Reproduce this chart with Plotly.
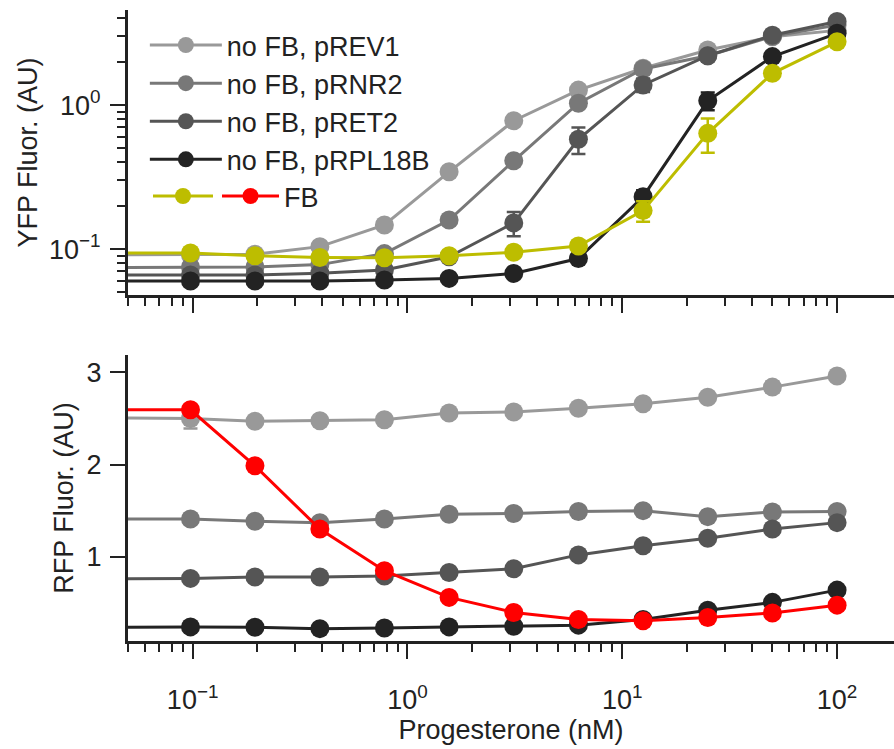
import plotly.graph_objects as go

# Progesterone concentrations (nM); the first entry is the untreated control, drawn off-scale at left
conc = [0.02, 0.0977, 0.195, 0.391, 0.781, 1.5625, 3.125, 6.25, 12.5, 25, 50, 100]

# YFP fluorescence (AU)
yfp_rev1 = [0.091, 0.091, 0.092, 0.104, 0.147, 0.344, 0.778, 1.27, 1.80, 2.41, 2.98, 3.3]
yfp_rnr2 = [0.074, 0.075, 0.075, 0.078, 0.093, 0.159, 0.41, 1.03, 1.78, 2.20, 3.0, 3.6]
yfp_ret2 = [0.066, 0.066, 0.066, 0.068, 0.0715, 0.0885, 0.152, 0.578, 1.38, 2.20, 3.05, 3.8]
yfp_rpl18b = [0.060, 0.060, 0.060, 0.060, 0.061, 0.0626, 0.0678, 0.086, 0.231, 1.07, 2.17, 3.15]
yfp_fb = [0.094, 0.094, 0.090, 0.0875, 0.087, 0.090, 0.095, 0.105, 0.185, 0.636, 1.66, 2.75]

yfp_rev1_err = [0, 0.003, 0.003, 0.004, 0.006, 0.012, 0.03, 0.05, 0.06, 0.08, 0.1, 0.1]
yfp_rnr2_err = [0, 0.002, 0.002, 0.003, 0.004, 0.008, 0.02, 0.05, 0.06, 0.08, 0.1, 0.1]
yfp_ret2_err = [0, 0.002, 0.002, 0.002, 0.003, 0.004, 0.029, 0.12, 0.15, 0.1, 0.1, 0.1]
yfp_rpl18b_err = [0, 0.002, 0.002, 0.002, 0.002, 0.002, 0.003, 0.004, 0.025, 0.15, 0.1, 0.1]
yfp_fb_err = [0, 0.003, 0.003, 0.003, 0.003, 0.003, 0.004, 0.005, 0.03, 0.17, 0.1, 0.1]

# RFP fluorescence (AU)
rfp_rev1 = [2.51, 2.50, 2.47, 2.475, 2.486, 2.56, 2.57, 2.61, 2.66, 2.73, 2.84, 2.96]
rfp_rnr2 = [1.41, 1.41, 1.385, 1.37, 1.41, 1.46, 1.47, 1.49, 1.50, 1.435, 1.486, 1.49]
rfp_ret2 = [0.755, 0.765, 0.78, 0.78, 0.79, 0.83, 0.87, 1.02, 1.12, 1.20, 1.30, 1.37]
rfp_rpl18b = [0.228, 0.239, 0.235, 0.22, 0.228, 0.239, 0.247, 0.258, 0.32, 0.42, 0.505, 0.638]
rfp_fb = [2.594, 2.594, 1.986, 1.30, 0.848, 0.559, 0.396, 0.32, 0.305, 0.34, 0.39, 0.475]

rfp_rev1_err = [0, 0.11, 0.02, 0.02, 0.02, 0.02, 0.02, 0.02, 0.02, 0.03, 0.06, 0.05]
rfp_small_err = [0, 0.02, 0.02, 0.02, 0.02, 0.02, 0.02, 0.02, 0.02, 0.02, 0.02, 0.02]

series_names = ["no FB, pREV1", "no FB, pRNR2", "no FB, pRET2", "no FB, pRPL18B"]
gray_colors = ["#999999", "#787878", "#555555", "#232323"]
yellow = "#BDBD00"
red = "#FF0000"

x_tickvals = [0.1, 1, 10, 100]
x_ticktext = ["10<sup>−1</sup>", "10<sup>0</sup>", "10<sup>1</sup>", "10<sup>2</sup>"]
yfp_tickvals = [0.1, 1]
yfp_ticktext = ["10<sup>−1</sup>", "10<sup>0</sup>"]
rfp_tickvals = [1, 2, 3]

FONT = "Liberation Sans, Arial, sans-serif"
INK = "#222222"
FS = 27

fig = go.Figure()


def add(yvals, err, color, name, xa, ya, showlegend, legend="legend"):
    fig.add_trace(go.Scatter(
        x=conc, y=yvals, name=name, mode="lines+markers",
        line=dict(color=color, width=3),
        marker=dict(color=color, size=19),
        error_y=dict(type="data", array=err, color=color, thickness=2.5, width=7),
        xaxis=xa, yaxis=ya, showlegend=showlegend, legend=legend,
    ))


yfp_sets = [(yfp_rev1, yfp_rev1_err), (yfp_rnr2, yfp_rnr2_err),
            (yfp_ret2, yfp_ret2_err), (yfp_rpl18b, yfp_rpl18b_err)]
for (vals, err), col, nm in zip(yfp_sets, gray_colors, series_names):
    add(vals, err, col, nm, "x", "y", True)
add(yfp_fb, yfp_fb_err, yellow, " ", "x", "y", True, "legend2")

rfp_sets = [(rfp_rev1, rfp_rev1_err), (rfp_rnr2, rfp_small_err),
            (rfp_ret2, rfp_small_err), (rfp_rpl18b, rfp_small_err)]
for (vals, err), col, nm in zip(rfp_sets, gray_colors, series_names):
    add(vals, err, col, nm, "x2", "y2", False)
add(rfp_fb, rfp_small_err, red, "FB", "x2", "y2", True, "legend3")

tickfont = dict(family=FONT, size=FS, color=INK)
titlefont = dict(family=FONT, size=FS, color=INK)
legfont = dict(family=FONT, size=FS, color=INK)
common_x = dict(
    type="log", range=[-1.301, 2.265], showgrid=False, zeroline=False,
    showline=True, linewidth=3, linecolor=INK,
    ticks="outside", ticklen=15, tickwidth=2, tickcolor=INK,
    tickmode="array", tickvals=x_tickvals, ticktext=x_ticktext,
    minor=dict(ticks="outside", ticklen=8, tickwidth=2, tickcolor=INK, dtick="D1", showgrid=False),
    tickfont=tickfont,
)

fig.update_layout(
    width=894, height=749,
    margin=dict(l=128, r=0, t=10, b=108),
    paper_bgcolor="white", plot_bgcolor="white",
    font=dict(family=FONT, size=FS, color=INK),
    xaxis=dict(common_x, domain=[0, 1], anchor="y", showticklabels=False),
    xaxis2=dict(common_x, domain=[0, 1], anchor="y2", ticklabelstandoff=18,
                title=dict(text="Progesterone (nM)", font=titlefont, standoff=6)),
    yaxis=dict(
        type="log", range=[-1.319, 0.660], domain=[0.5483, 1.0], anchor="x",
        showgrid=False, zeroline=False, showline=True, linewidth=3, linecolor=INK,
        ticks="outside", ticklen=15, tickwidth=2, tickcolor=INK,
        tickmode="array", tickvals=yfp_tickvals, ticktext=yfp_ticktext,
        minor=dict(ticks="outside", ticklen=8, tickwidth=2, tickcolor=INK, dtick="D1", showgrid=False),
        tickfont=tickfont, ticklabelstandoff=4,
        title=dict(text="YFP Fluor. (AU)", font=titlefont, standoff=4),
    ),
    yaxis2=dict(
        range=[0.086, 3.188], domain=[0, 0.4532], anchor="x2",
        showgrid=False, zeroline=False, showline=True, linewidth=3, linecolor=INK,
        ticks="outside", ticklen=15, tickwidth=2, tickcolor=INK,
        tickmode="array", tickvals=rfp_tickvals, ticktext=["1", "2", "3"],
        tickfont=tickfont, ticklabelstandoff=3,
        title=dict(text="RFP Fluor. (AU)", font=titlefont, standoff=6),
    ),
    legend=dict(
        x=0.022, y=0.9826, xanchor="left", yanchor="top",
        font=legfont, bgcolor="rgba(0,0,0,0)", itemwidth=72, traceorder="normal",
    ),
    legend2=dict(
        x=0.0261, y=0.7433, xanchor="left", yanchor="top",
        font=legfont, bgcolor="rgba(0,0,0,0)", itemwidth=60, traceorder="normal",
    ),
    legend3=dict(
        x=0.1162, y=0.7433, xanchor="left", yanchor="top",
        font=legfont, bgcolor="rgba(0,0,0,0)", itemwidth=57, traceorder="normal",
    ),
)

fig.write_html("out.html")
